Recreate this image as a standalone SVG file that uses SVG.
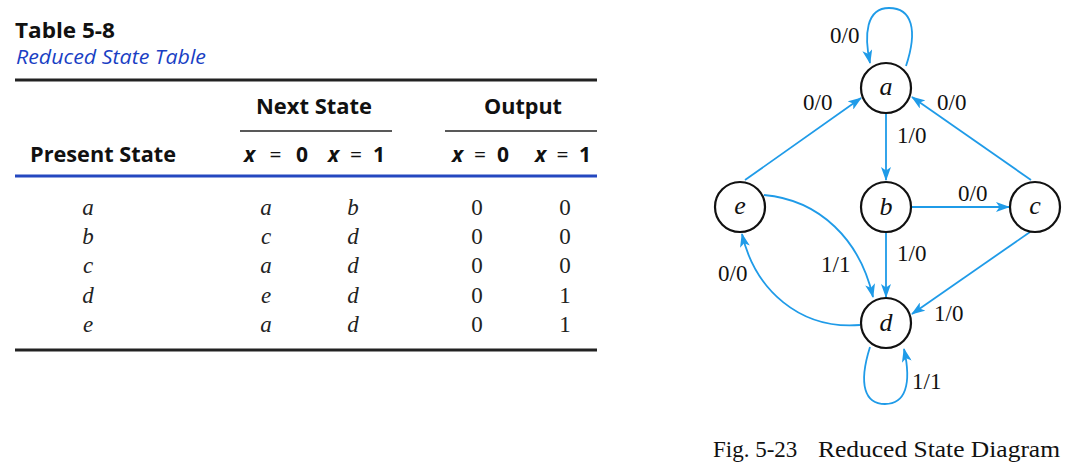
<svg xmlns="http://www.w3.org/2000/svg" width="1067" height="468" viewBox="0 0 1067 468">
<style>
.hd{font-family:"Open Sans","Noto Sans",sans-serif;font-weight:bold;fill:#111;font-size:21px}
.ttl{font-family:"Open Sans","Noto Sans",sans-serif;font-style:italic;fill:#1a3fc4;font-size:20px}
.cell{font-family:"Liberation Serif","Times New Roman",serif;font-size:23px;fill:#222;text-anchor:middle}
.it{font-style:italic}
.lbl{font-family:"Liberation Serif","Times New Roman",serif;font-size:23px;fill:#111}
.nl{font-family:"Liberation Serif","Times New Roman",serif;font-size:26px;font-style:italic;fill:#111;text-anchor:middle}
.node{fill:#fff;stroke:#111;stroke-width:2.2}
.edge{fill:none;stroke:#1f9be8;stroke-width:1.8}
.rule{stroke:#222}
</style>
<defs>
<marker id="arr" viewBox="0 0 14 10" refX="13" refY="5" markerWidth="14" markerHeight="10" markerUnits="userSpaceOnUse" orient="auto">
<path d="M0,0 L14,5 L0,10 L3.5,5 z" fill="#1f9be8"/>
</marker>
</defs>
<rect width="1067" height="468" fill="#fff"/>
<!-- Table -->
<g id="table">
<text class="hd" x="15" y="38" textLength="100" lengthAdjust="spacingAndGlyphs">Table 5-8</text>
<text class="ttl" x="16" y="64" textLength="190" lengthAdjust="spacingAndGlyphs">Reduced State Table</text>
<line class="rule" x1="15" y1="80" x2="597" y2="80" stroke-width="3"/>
<text class="hd" x="256" y="114" textLength="116" lengthAdjust="spacingAndGlyphs">Next State</text>
<text class="hd" x="484" y="114" textLength="78" lengthAdjust="spacingAndGlyphs">Output</text>
<line class="rule" x1="240" y1="131" x2="392" y2="131" stroke-width="1.5" stroke="#555"/>
<line class="rule" x1="445" y1="131" x2="597" y2="131" stroke-width="1.5" stroke="#555"/>
<text class="hd" x="30" y="162" textLength="146" lengthAdjust="spacingAndGlyphs">Present State</text>
<text class="hd" x="244" y="162" textLength="64"><tspan font-style="italic">x</tspan><tspan font-weight="normal"> = </tspan>0</text>
<text class="hd" x="328" y="162" textLength="57"><tspan font-style="italic">x</tspan><tspan font-weight="normal"> = </tspan>1</text>
<text class="hd" x="452" y="162" textLength="57"><tspan font-style="italic">x</tspan><tspan font-weight="normal"> = </tspan>0</text>
<text class="hd" x="535" y="162" textLength="56"><tspan font-style="italic">x</tspan><tspan font-weight="normal"> = </tspan>1</text>
<line x1="15" y1="176" x2="597" y2="176" stroke="#2448c0" stroke-width="3"/>
<g class="cell">
<text class="it" x="88" y="215">a</text><text class="it" x="266" y="215">a</text><text class="it" x="353" y="215">b</text><text x="477" y="215">0</text><text x="565" y="215">0</text>
<text class="it" x="88" y="244">b</text><text class="it" x="266" y="244">c</text><text class="it" x="353" y="244">d</text><text x="477" y="244">0</text><text x="565" y="244">0</text>
<text class="it" x="88" y="273">c</text><text class="it" x="266" y="273">a</text><text class="it" x="353" y="273">d</text><text x="477" y="273">0</text><text x="565" y="273">0</text>
<text class="it" x="88" y="303">d</text><text class="it" x="266" y="303">e</text><text class="it" x="353" y="303">d</text><text x="477" y="303">0</text><text x="565" y="303">1</text>
<text class="it" x="88" y="332">e</text><text class="it" x="266" y="332">a</text><text class="it" x="353" y="332">d</text><text x="477" y="332">0</text><text x="565" y="332">1</text>
</g>
<line class="rule" x1="15" y1="350" x2="597" y2="350" stroke-width="3"/>
</g>
<!-- Connectors -->
<g id="connectors">
<path class="edge" d="M906,66 C918,30 912,8 889,8 C866,8 864,35 870,63" marker-end="url(#arr)"/>
<line class="edge" x1="886" y1="114" x2="886" y2="180" marker-end="url(#arr)"/>
<line class="edge" x1="745" y1="180" x2="861" y2="98" marker-end="url(#arr)"/>
<line class="edge" x1="1031" y1="180" x2="912" y2="97" marker-end="url(#arr)"/>
<line class="edge" x1="912" y1="207" x2="1009" y2="207" marker-end="url(#arr)"/>
<line class="edge" x1="886" y1="232" x2="886" y2="297" marker-end="url(#arr)"/>
<line class="edge" x1="1030" y1="232" x2="912" y2="314" marker-end="url(#arr)"/>
<path class="edge" d="M764,195 C820,200 860,240 873,297" marker-end="url(#arr)"/>
<path class="edge" d="M860,325 C800,330 755,290 742,234" marker-end="url(#arr)"/>
<path class="edge" d="M870,347 C858,385 865,404 885,404 C905,404 912,385 904,349" marker-end="url(#arr)"/>
<text class="lbl" x="830" y="43">0/0</text>
<text class="lbl" x="803" y="110">0/0</text>
<text class="lbl" x="937" y="110">0/0</text>
<text class="lbl" x="897" y="143">1/0</text>
<text class="lbl" x="958" y="201">0/0</text>
<text class="lbl" x="897" y="261">1/0</text>
<text class="lbl" x="821" y="272">1/1</text>
<text class="lbl" x="718" y="281">0/0</text>
<text class="lbl" x="934" y="321">1/0</text>
<text class="lbl" x="912" y="389">1/1</text>
</g>
<!-- Nodes -->
<g id="node-a"><circle class="node" cx="886" cy="88" r="25"/><text class="nl" x="886" y="95">a</text></g>
<g id="node-b"><circle class="node" cx="886" cy="207" r="25"/><text class="nl" x="886" y="215">b</text></g>
<g id="node-c"><circle class="node" cx="1035" cy="207" r="25"/><text class="nl" x="1035" y="214">c</text></g>
<g id="node-d"><circle class="node" cx="886" cy="323" r="25"/><text class="nl" x="886" y="331">d</text></g>
<g id="node-e"><circle class="node" cx="740" cy="207" r="25"/><text class="nl" x="740" y="214">e</text></g>
<g id="caption">
<text class="lbl" x="713" y="457" font-size="23">Fig. 5-23</text>
<text class="lbl" x="818" y="457" font-size="23" textLength="242" lengthAdjust="spacingAndGlyphs">Reduced State Diagram</text>
</g>
</svg>
